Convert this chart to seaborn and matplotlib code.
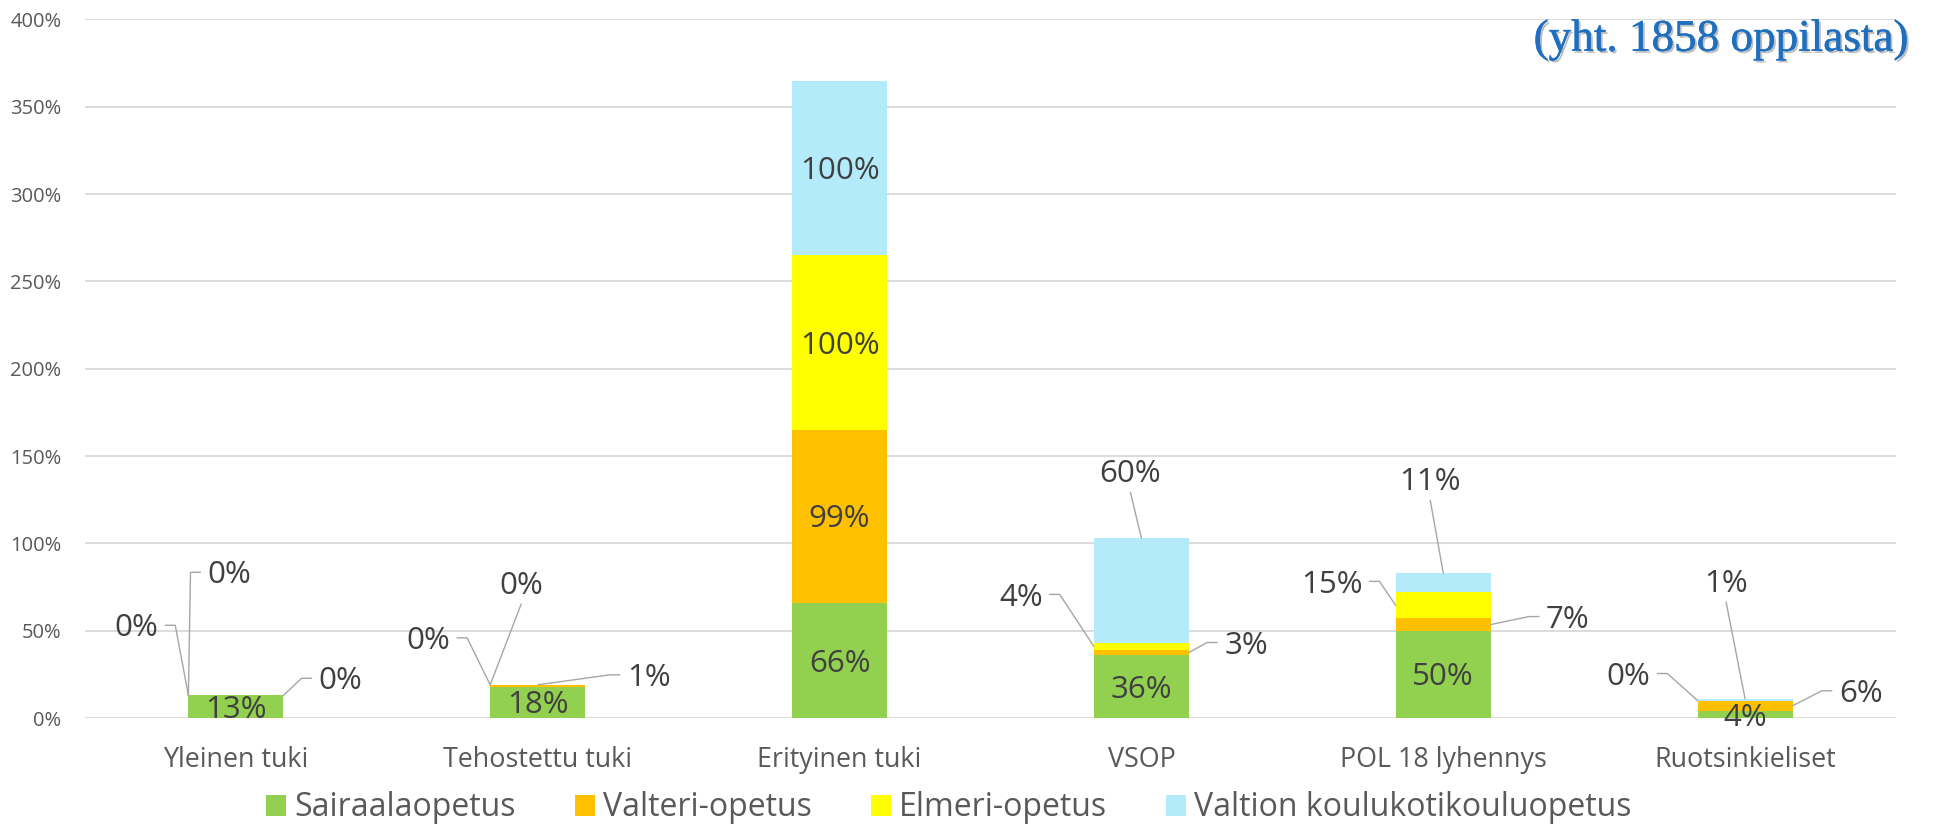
import numpy as np
import matplotlib
matplotlib.use("Agg")
import matplotlib.pyplot as plt
import matplotlib.patheffects as pe
from matplotlib.patches import Patch
from matplotlib.lines import Line2D
import seaborn as sns

# ---------------- data ----------------
categories = ["Yleinen tuki", "Tehostettu tuki", "Erityinen tuki", "VSOP",
              "POL 18 lyhennys", "Ruotsinkieliset"]
series_names = ["Sairaalaopetus", "Valteri-opetus", "Elmeri-opetus",
                "Valtion koulukotikouluopetus"]
sairaala = [13, 18, 66, 36, 50, 4]
valteri = [0, 1, 99, 3, 7, 6]
elmeri = [0, 0, 100, 4, 15, 0]
valtion = [0, 0, 100, 60, 11, 1]
yticks = [0, 50, 100, 150, 200, 250, 300, 350, 400]
note = "(yht. 1858 oppilasta)"

# ---------------- style ----------------
colors = ["#92D050", "#FFC000", "#FFFF00", "#B4EBFB"]
label_color = "#404040"
tick_color = "#595959"
grid_color = "#D9D9D9"
leader_color = "#A6A6A6"
bar_w = 0.315

sns.set_theme(style="white")
plt.rcParams["font.family"] = ["Open Sans", "DejaVu Sans"]

W, H, DPI = 1934, 824, 100
fig = plt.figure(figsize=(W / DPI, H / DPI), dpi=DPI)
ax = fig.add_axes([85 / W, 1 - 718 / H, (1896 - 85) / W, (718 - 19.4) / H])

series = [sairaala, valteri, elmeri, valtion]
bottoms = np.zeros(len(categories))
seg_info = []
for s, vals in enumerate(series):
    vals = np.array(vals, dtype=float)
    sns.barplot(x=categories, y=vals, bottom=bottoms.copy(), color=colors[s],
                saturation=1, width=bar_w, linewidth=0, errorbar=None, ax=ax)
    seg_info.append((bottoms.copy(), vals.copy()))
    bottoms = bottoms + vals

ax.set_xlim(-0.5, len(categories) - 0.5)
ax.set_ylim(0, 400)
ax.set_yticks(yticks)
ax.set_yticklabels([f"{t}%" for t in yticks])
ax.yaxis.grid(True, color=grid_color, lw=1.3)
ax.xaxis.grid(False)
ax.set_axisbelow(True)
for sp in ax.spines.values():
    sp.set_visible(False)
ax.tick_params(axis="y", length=0, pad=17, labelsize=14.5, labelcolor=tick_color)
ax.tick_params(axis="x", length=0, pad=20, labelsize=19.4, labelcolor=tick_color)
ax.set_xlabel("")
ax.set_ylabel("")

# ---------------- data labels ----------------
lab_fs = 22.5
cap_half = lab_fs * DPI / 72 * 0.714 / 2

# (category, series): (anchor, dx px, dy px, leader side)
placement = {
    (0, 1): ("R", 57, 17, "left"),
    (0, 2): ("L", -52, 70, "right"),
    (0, 3): ("TL", 41, 123, "left"),
    (1, 1): ("T", 111, 10, "left"),
    (1, 2): ("L", -62, 47, "right"),
    (1, 3): ("TL", 31, 102, "bottom"),
    (3, 1): ("R", 57, 10, "left"),
    (3, 2): ("L", -73, 52, "right"),
    (3, 3): ("T", -11, 67, "bottom"),
    (4, 1): ("R", 77, 8, "left"),
    (4, 2): ("L", -64, 24, "right"),
    (4, 3): ("T", -13, 94, "bottom"),
    (5, 1): ("R", 68, 15, "left"),
    (5, 2): ("L", -69, 27, "right"),
    (5, 3): ("T", -19, 118, "bottom"),
}

texts = []
for s in range(len(series)):
    bot, vals = seg_info[s]
    for i in range(len(categories)):
        txt = f"{int(round(vals[i]))}%"
        key = (i, s)
        if key in placement:
            anc, dx, dy, side = placement[key]
            ax_x = i + {"L": -bar_w / 2, "R": bar_w / 2, "T": 0, "TL": -bar_w / 2}[anc]
            ax_y = bot[i] + (vals[i] / 2 if anc in ("L", "R") else vals[i])
            t = ax.annotate(txt, xy=(ax_x, ax_y), xytext=(dx, dy - cap_half),
                            textcoords="offset pixels", ha="center", va="baseline",
                            fontsize=lab_fs, color=label_color)
            texts.append((t, (ax_x, ax_y), dx, dy, side))
        else:
            ax.annotate(txt, xy=(i, bot[i] + vals[i] / 2), xytext=(0, -cap_half),
                        textcoords="offset pixels", ha="center", va="baseline",
                        fontsize=lab_fs, color=label_color)

fig.canvas.draw()
renderer = fig.canvas.get_renderer()
inv = fig.transFigure.inverted()
gap, stub = 7, 10
for t, xy, dx, dy, side in texts:
    axp = ax.transData.transform(xy)
    cx, cy = axp[0] + dx, axp[1] + dy
    bb = t.get_window_extent(renderer)
    if side == "left":
        x0 = bb.x0 - gap
        pts = [(x0, cy), (x0 - stub, cy), tuple(axp)]
    elif side == "right":
        x0 = bb.x1 + gap
        pts = [(x0, cy), (x0 + stub, cy), tuple(axp)]
    else:
        pts = [(cx, cy - cap_half - 10), tuple(axp)]
    fp = inv.transform(np.array(pts))
    fig.add_artist(Line2D(fp[:, 0], fp[:, 1], color=leader_color, lw=1.0,
                          transform=fig.transFigure))

# ---------------- legend ----------------
handles = [Patch(facecolor=c, edgecolor="none", label=n)
           for c, n in zip(colors, series_names)]
fig.legend(handles=handles, loc="center", bbox_to_anchor=(949 / W, 1 - 808 / H),
           ncol=4, frameon=False, fontsize=23, handlelength=0.63, handleheight=0.63,
           handletextpad=0.25, columnspacing=1.85, labelcolor=tick_color,
           borderaxespad=0, borderpad=0)

# ---------------- note ----------------
fig.text(1909 / W, 1 - 40 / H, note, ha="right", va="center", fontsize=32.5,
         family="Liberation Serif", color="#1F6FBF",
         path_effects=[pe.SimplePatchShadow(offset=(1.5, -1.5), shadow_rgbFace="#7F7F7F",
                                            alpha=0.5),
                       pe.Stroke(linewidth=0.3, foreground="#1F6FBF"), pe.Normal()])

fig.savefig("out.png", dpi=DPI)
